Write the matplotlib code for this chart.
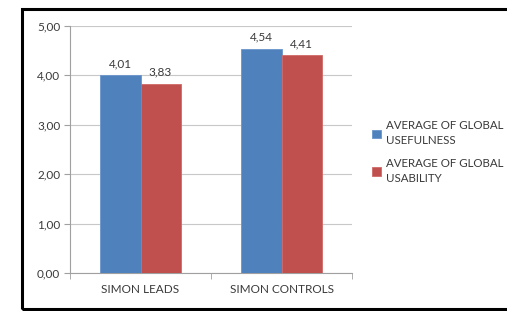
import matplotlib.pyplot as plt
import numpy as np
from matplotlib.patches import Rectangle

categories = ['SIMON LEADS', 'SIMON CONTROLS']
usefulness = [4.01, 4.54]
usability = [3.83, 4.41]
series_names = ['AVERAGE OF GLOBAL\nUSEFULNESS', 'AVERAGE OF GLOBAL\nUSABILITY']
yticks = [0, 1, 2, 3, 4, 5]

plt.rcParams['font.family'] = ['Lato', 'DejaVu Sans']
plt.rcParams['font.size'] = 8.5

W, H = 507, 311
fig = plt.figure(figsize=(W / 100, H / 100), dpi=100)
ax = fig.add_axes([70 / W, 1 - 273 / H, (352 - 70) / W, (273 - 26) / H])

x = np.arange(len(categories))
w = 0.284
text_col = '#3a3a3a'
b1 = ax.bar(x - w / 2, usefulness, w, color='#4F81BD', edgecolor='#6A95CC', linewidth=0.6,
            label=series_names[0], zorder=3)
b2 = ax.bar(x + w / 2, usability, w, color='#C0504D', edgecolor='#D06A67', linewidth=0.6,
            label=series_names[1], zorder=3)

for bars, vals in [(b1, usefulness), (b2, usability)]:
    for rect, v in zip(bars, vals):
        ax.text(rect.get_x() + rect.get_width() / 2, v + 0.12, f"{v:.2f}".replace('.', ','),
                ha='center', va='bottom', color=text_col, fontsize=8.5)

ax.set_xlim(-0.5, 1.5)
ax.set_ylim(0, 5)
ax.set_yticks(yticks)
ax.set_yticklabels([f"{t:.2f}".replace('.', ',') for t in yticks], color=text_col)
ax.set_xticks(x)
ax.set_xticklabels(categories, color=text_col)
ax.set_xticks([-0.5, 0.5, 1.5], minor=True)
ax.tick_params(axis='x', which='major', length=0, pad=8)
ax.tick_params(axis='x', which='minor', length=4, color='#A0A0A0', direction='out')
ax.tick_params(axis='y', length=4, color='#A0A0A0', pad=3)

ax.grid(axis='y', color='#C8C8C8', linewidth=0.8, zorder=0)
for s in ['top', 'right']:
    ax.spines[s].set_visible(False)
ax.spines['left'].set_color('#A0A0A0')
ax.spines['bottom'].set_color('#A0A0A0')

leg = fig.legend(handles=[b1, b2], labels=series_names, loc='upper left',
                 bbox_to_anchor=(362 / W, 1 - 110 / H), frameon=False,
                 handlelength=0.75, handleheight=0.75, handletextpad=0.4,
                 labelspacing=1.0, labelcolor=text_col, fontsize=8.3)
for t in leg.get_texts():
    t.set_linespacing(1.45)

fig.patches.append(Rectangle((22 / W, 1 - 309 / H), 1, (309 - 9) / H,
                             transform=fig.transFigure, fill=False,
                             edgecolor='black', linewidth=2.2))

fig.savefig('out.png', dpi=100)
